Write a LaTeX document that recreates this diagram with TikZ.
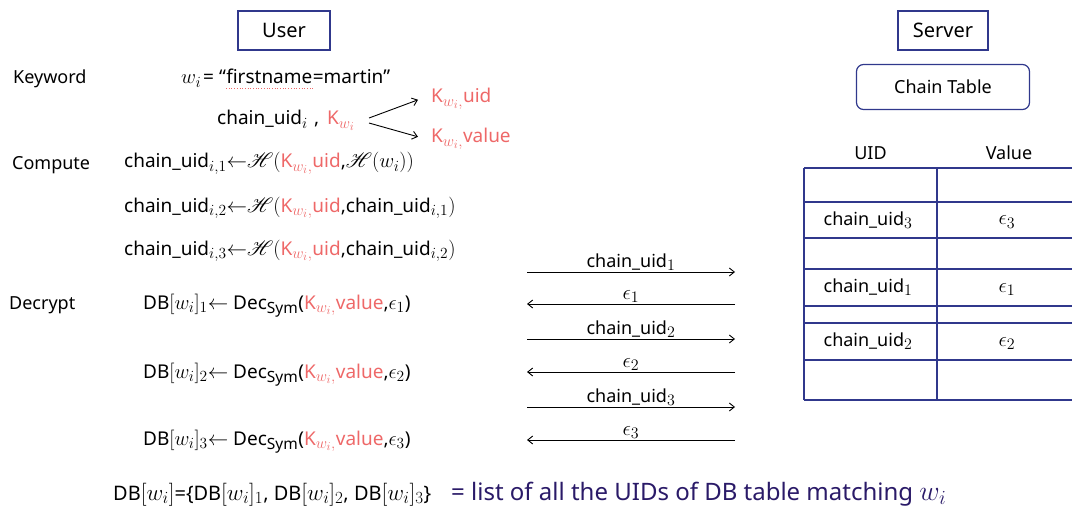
\documentclass[tikz,border=0pt]{standalone}
\usepackage{fix-cm}
\usepackage{fontspec}
\usepackage{mathrsfs}
\setmainfont{Noto Sans}
\usetikzlibrary{arrows.meta}
\DeclareMathSizes{18}{21}{16}{13}
\DeclareMathSizes{19}{20.5}{15.5}{12}
\DeclareMathSizes{20}{23}{17}{14}
\DeclareMathSizes{24}{28}{20}{16}
\definecolor{keyred}{RGB}{238,104,104}
\definecolor{boxblue}{RGB}{48,56,140}
\definecolor{notecol}{RGB}{42,26,104}
\newcommand{\Kuid}{{\color{keyred}K$_{w_i,}$uid}}
\newcommand{\Kval}{{\color{keyred}K$_{w_i,}$value}}
\newcommand{\Hs}{\mathscr{H}}
\newcommand{\lar}{\mathord{\leftarrow}}
\begin{document}
\begin{tikzpicture}[x=1pt,y=-1pt,
  txt/.style={anchor=base west, inner sep=0pt, font=\fontsize{19}{22}\selectfont},
  lab/.style={anchor=base west, inner sep=0pt, font=\fontsize{18}{21}\selectfont},
  cell/.style={inner sep=0pt, font=\fontsize{18}{21}\selectfont},
  titlebox/.style={draw=boxblue, line width=1.2pt, inner sep=0pt, font=\fontsize{20}{24}\selectfont},
  roundbox/.style={draw=boxblue, line width=1.2pt, rounded corners=7pt, inner sep=0pt, font=\fontsize{18}{21}\selectfont},
  tab/.style={draw=boxblue, line width=1.2pt},
  msg/.style={draw=black, line width=0.9pt},
  tip/.style={-{Straight Barb[length=5pt,width=8pt]}},
  lbl/.style={inner sep=0pt, font=\fontsize{18}{21}\selectfont}]
\useasboundingbox (0,0) rectangle (1072,508);

% party headers
\node[titlebox, minimum width=92pt, minimum height=39pt] (user) at (284,30.5) {User};
\node[titlebox, minimum width=90pt, minimum height=39pt] (server) at (943,30.5) {Server};
\node[roundbox, minimum width=173pt, minimum height=45pt] (ct) at (943,87) {Chain Table};

% keyword derivation
\node[lab] (kwlab) at (13,84) {Keyword};
\node[txt] (wi) at (181,84) {$w_i$\kern2pt= “};
\node[txt] (fn) at (wi.base east) {firstname};
\node[txt] (mt) at (fn.base east) {=martin”};
\draw[keyred, line width=0.7pt, dotted] ([yshift=-4pt]fn.base west) -- ([yshift=-4pt]fn.base east);
\node[txt] (cu) at (217,125) {chain\_uid$_i$};
\node[txt] (cm) at (314,125) {,};
\node[txt, text=keyred] (kw) at (327,125) {K$_{w_i}$};
\node[txt, text=keyred] (kuid) at (431,103) {K$_{w_i,}$uid};
\node[txt, text=keyred] (kval) at (431,143) {K$_{w_i,}$value};
\draw[msg, tip] ([xshift=14pt,yshift=3pt]kw.east) -- ([xshift=-13pt,yshift=-1pt]kuid.west);
\draw[msg, tip] ([xshift=14pt,yshift=-2pt]kw.east) -- ([xshift=-13pt,yshift=2pt]kval.west);

% chain uid computation
\node[lab] (cmp) at (12,170) {Compute};
\node[txt] (h1) at (124,168) {chain\_uid$_{i{,}1}\lar\Hs($\Kuid,$\Hs(w_i))$};
\node[txt] (h2) at (124,212) {chain\_uid$_{i{,}2}\lar\Hs($\Kuid,chain\_uid$_{i{,}1})$};
\node[txt] (h3) at (124,255) {chain\_uid$_{i{,}3}\lar\Hs($\Kuid,chain\_uid$_{i{,}2})$};

% decryption
\node[lab] (dec) at (9,309) {Decrypt};
\node[txt] (d1) at (143,309) {DB$[w_i]_1\lar$ Dec\textsubscript{Sym}(\Kval,$\epsilon_1$)};
\node[txt] (d2) at (143,378) {DB$[w_i]_2\lar$ Dec\textsubscript{Sym}(\Kval,$\epsilon_2$)};
\node[txt] (d3) at (143,445) {DB$[w_i]_3\lar$ Dec\textsubscript{Sym}(\Kval,$\epsilon_3$)};

% result
\node[txt, font=\fontsize{20}{24}\selectfont] (db) at (113,500) {DB$[w_i]$=\{DB$[w_i]_1$, DB$[w_i]_2$, DB$[w_i]_3$\}};
\node[txt, text=notecol, font=\fontsize{24}{28}\selectfont] (note) at (451,500) {= list of all the UIDs of DB table matching $w_i$};

% messages between user and server
\coordinate (m1l) at (527,272); \coordinate (m1r) at (735,272);
\coordinate (m2l) at (527,304); \coordinate (m2r) at (735,304);
\coordinate (m3l) at (527,339); \coordinate (m3r) at (735,339);
\coordinate (m4l) at (527,372); \coordinate (m4r) at (735,372);
\coordinate (m5l) at (527,407); \coordinate (m5r) at (735,407);
\coordinate (m6l) at (527,440); \coordinate (m6r) at (735,440);
\draw[msg, tip] (m1l) -- node[lbl, above=1pt] {chain\_uid$_1$} (m1r);
\draw[msg, tip] (m2r) -- node[lbl, above=1pt] {$\epsilon_1$} (m2l);
\draw[msg, tip] (m3l) -- node[lbl, above=1pt] {chain\_uid$_2$} (m3r);
\draw[msg, tip] (m4r) -- node[lbl, above=1pt] {$\epsilon_2$} (m4l);
\draw[msg, tip] (m5l) -- node[lbl, above=1pt] {chain\_uid$_3$} (m5r);
\draw[msg, tip] (m6r) -- node[lbl, above=1pt] {$\epsilon_3$} (m6l);

% chain table
\node[cell] (huid) at (870.5,153) {UID};
\node[cell] (hval) at (1009,153) {Value};
\foreach \r in {168,202,238,269,306,323,360,400}
  \draw[tab] (804,\r) -- (1072,\r);
\draw[tab] (804,168) -- (804,400);
\draw[tab] (937,168) -- (937,400);
\node[cell] (c3) at (868,220) {chain\_uid$_3$};
\node[cell] (e3) at (1007,222) {$\epsilon_3$};
\node[cell] (c1) at (868,287.5) {chain\_uid$_1$};
\node[cell] (e1) at (1007,289.5) {$\epsilon_1$};
\node[cell] (c2) at (868,341.5) {chain\_uid$_2$};
\node[cell] (e2) at (1007,343.5) {$\epsilon_2$};
\end{tikzpicture}
\end{document}
